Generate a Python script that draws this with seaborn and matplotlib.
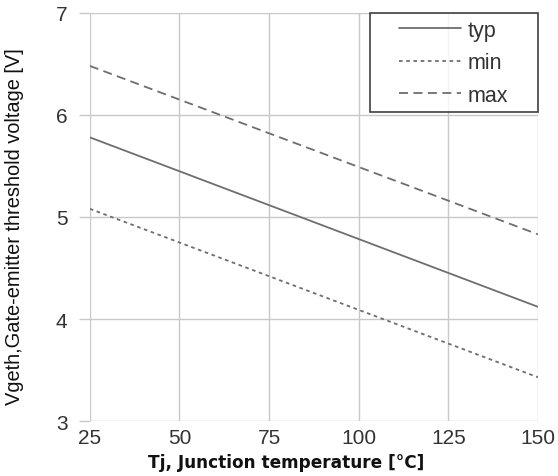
import matplotlib
matplotlib.use("Agg")
import matplotlib.pyplot as plt
from matplotlib.legend_handler import HandlerLine2D
import seaborn as sns
import pandas as pd

temps = [25, 150]
typ = [5.78, 4.12]
vmin = [5.08, 3.43]
vmax = [6.48, 4.83]
series = ["typ", "min", "max"]
xticks = [25, 50, 75, 100, 125, 150]
yticks = [3, 4, 5, 6, 7]

df = pd.DataFrame({
    "Tj": temps * 3,
    "V": typ + vmin + vmax,
    "series": ["typ"] * 2 + ["min"] * 2 + ["max"] * 2,
})

sns.set_theme(style="white")
plt.rcParams["font.family"] = ["Liberation Sans", "DejaVu Sans"]

fig = plt.figure(figsize=(5.58, 4.77), dpi=100)
ax = fig.add_axes([0.161, 0.115, 0.803, 0.856])

dashes = {"typ": "", "min": (2, 2), "max": (5, 3)}
sns.lineplot(data=df, x="Tj", y="V", hue="series", style="series",
             hue_order=series, style_order=series,
             palette={"typ": "#6e6e6e", "min": "#6e6e6e", "max": "#6e6e6e"},
             dashes=dashes, linewidth=1.3, ax=ax, legend=True)

ax.set_xlim(25, 150)
ax.set_ylim(3, 7)
ax.set_xticks(xticks)
ax.set_yticks(yticks)
ax.grid(True, color="#c8c8c8", linewidth=1.0)
for s in ax.spines.values():
    s.set_visible(False)
ax.tick_params(axis="y", length=8, color="#c8c8c8", width=1.0, pad=8,
               labelsize=15, labelcolor="#333333", left=True)
ax.tick_params(axis="x", length=0, pad=5, labelsize=15, labelcolor="#333333")

ax.set_xlabel("Tj, Junction temperature [\u00b0C]", fontsize=12.2,
              fontweight="bold", color="#111111",
              family=["DejaVu Sans"])
ax.xaxis.set_label_coords(0.4375, -0.078)
ax.set_ylabel("Vgeth,Gate-emitter threshold voltage [V]", fontsize=14.4,
              color="#111111",
              family=["Liberation Sans Narrow", "Liberation Sans", "DejaVu Sans"])
ax.yaxis.set_label_coords(-0.148, 0.478)

handles, labels = ax.get_legend_handles_labels()
fs = 15.5
leg = ax.legend(handles, labels, loc="upper left", fontsize=fs,
                frameon=True, fancybox=False, borderaxespad=0,
                mode="expand", bbox_to_anchor=(0.625, 0.0, 0.375, 1.0),
                handlelength=3.9, labelspacing=0.53, borderpad=0.32,
                handletextpad=0.33,
                handler_map={h: HandlerLine2D(xpad=1.02) for h in handles})
leg.get_frame().set_edgecolor("#111111")
leg.get_frame().set_linewidth(1.2)
for t in leg.get_texts():
    t.set_color("#333333")

fig.savefig("out.png", dpi=100)
